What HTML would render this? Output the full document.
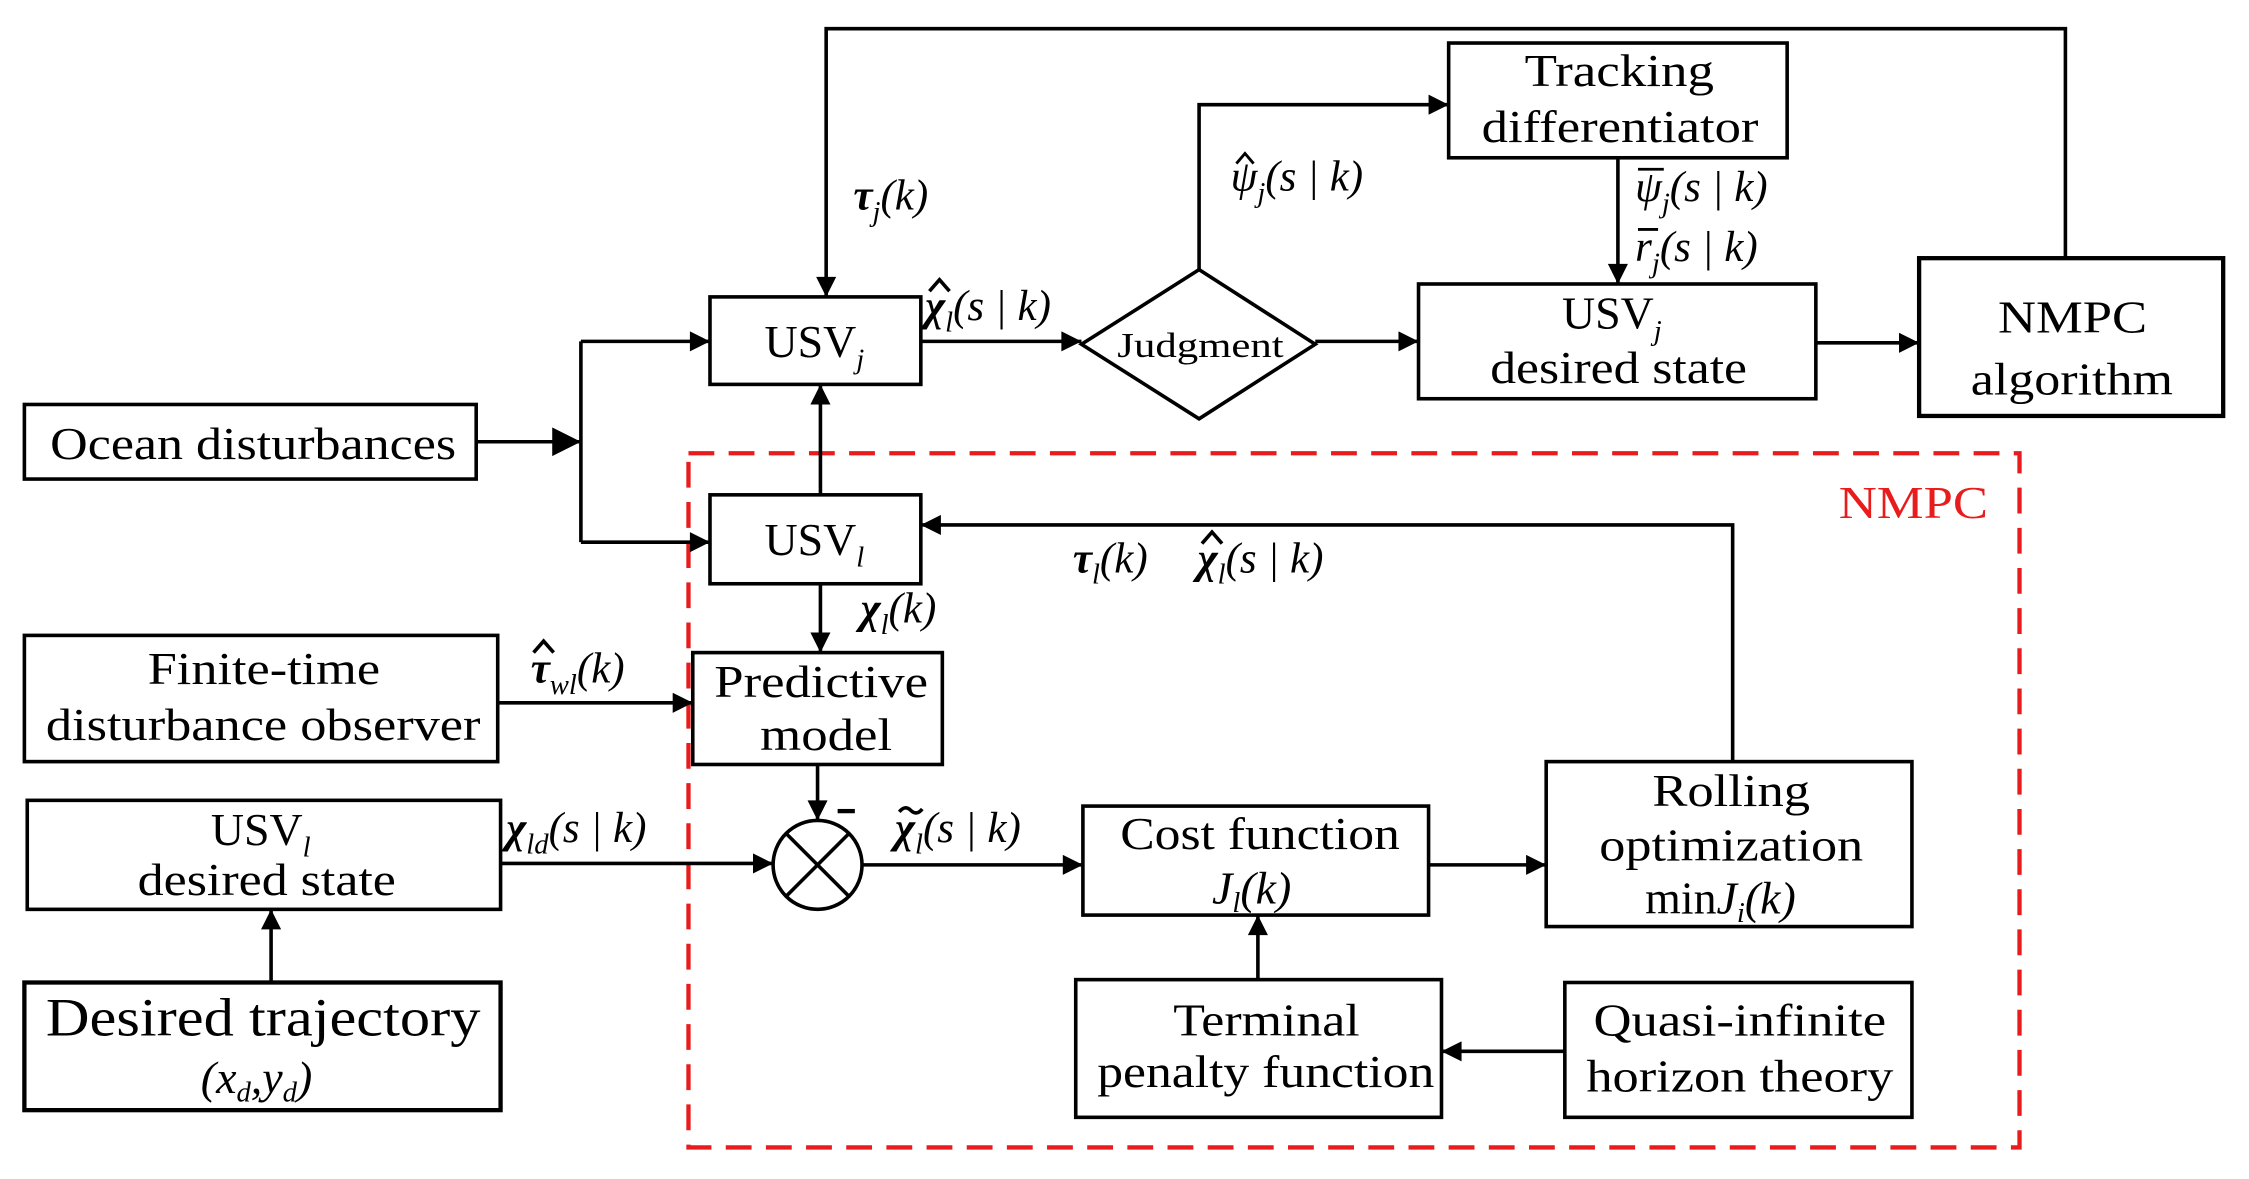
<!DOCTYPE html>
<html><head><meta charset="utf-8">
<style>
html,body{margin:0;padding:0;background:#fff;}
svg{display:block;}
text{font-family:"Liberation Serif",serif;fill:#000;}
.m{font-style:italic;}
</style></head>
<body>
<svg width="2249" height="1179" viewBox="0 0 1568 822" preserveAspectRatio="none" xmlns="http://www.w3.org/2000/svg">
<defs>
<marker id="a" viewBox="0 0 10 10" refX="10" refY="5" markerWidth="16" markerHeight="14" markerUnits="userSpaceOnUse" orient="auto">
<path d="M0,0 L10,5 L0,10 z" fill="#000"/></marker>
<marker id="b" viewBox="0 0 10 10" refX="10" refY="5" markerWidth="24" markerHeight="20" markerUnits="userSpaceOnUse" orient="auto">
<path d="M0,0 L10,5 L0,10 z" fill="#000"/></marker>
</defs>
<rect x="480" y="316" width="928" height="484" fill="none" stroke="#e81c1c" stroke-width="3" stroke-dasharray="18,10"/>
<text x="1282" y="361" font-size="32" style="fill:#e81c1c" textLength="104" lengthAdjust="spacingAndGlyphs">NMPC</text>

<g fill="none" stroke="#000" stroke-width="2.5">
<rect x="1010" y="30" width="236" height="80"/>
<rect x="495" y="207" width="147" height="61"/>
<polygon points="754,240 836,188 917,240 836,292"/>
<rect x="989" y="198" width="277" height="80"/>
<rect x="1338" y="180" width="212" height="110" stroke-width="3"/>
<rect x="17" y="282" width="315" height="52"/>
<rect x="495" y="345" width="147" height="62"/>
<rect x="17" y="443" width="330" height="88"/>
<rect x="483" y="455" width="174" height="78"/>
<rect x="19" y="558" width="330" height="76"/>
<rect x="17" y="685" width="332" height="89" stroke-width="3"/>
<circle cx="570" cy="603" r="31"/>
<line x1="548" y1="581" x2="592" y2="625"/><line x1="592" y1="581" x2="548" y2="625"/>
<rect x="755" y="562" width="241" height="76"/>
<rect x="1078" y="531" width="255" height="115"/>
<rect x="750" y="683" width="255" height="96"/>
<rect x="1091" y="685" width="242" height="94"/>
</g>

<g fill="none" stroke="#000" stroke-width="2.5">
<polyline points="1440,180 1440,20 576,20 576,207" marker-end="url(#a)"/>
<line x1="332" y1="308" x2="405" y2="308" marker-end="url(#b)"/>
<line x1="405" y1="238" x2="405" y2="378"/>
<line x1="405" y1="238" x2="495" y2="238" marker-end="url(#a)"/>
<line x1="405" y1="378" x2="495" y2="378" marker-end="url(#a)"/>
<line x1="572" y1="345" x2="572" y2="268" marker-end="url(#a)"/>
<line x1="642" y1="238" x2="754" y2="238" marker-end="url(#a)"/>
<polyline points="836,188 836,73 1010,73" marker-end="url(#a)"/>
<line x1="917" y1="238" x2="989" y2="238" marker-end="url(#a)"/>
<line x1="1128" y1="110" x2="1128" y2="198" marker-end="url(#a)"/>
<line x1="1266" y1="239" x2="1338" y2="239" marker-end="url(#a)"/>
<polyline points="1208,531 1208,366 642,366" marker-end="url(#a)"/>
<line x1="572" y1="407" x2="572" y2="455" marker-end="url(#a)"/>
<line x1="347" y1="490" x2="483" y2="490" marker-end="url(#a)"/>
<line x1="570" y1="533" x2="570" y2="572" marker-end="url(#a)"/>
<line x1="349" y1="602" x2="539" y2="602" marker-end="url(#a)"/>
<line x1="601" y1="603" x2="755" y2="603" marker-end="url(#a)"/>
<line x1="996" y1="603" x2="1078" y2="603" marker-end="url(#a)"/>
<line x1="877" y1="683" x2="877" y2="638" marker-end="url(#a)"/>
<line x1="1091" y1="733" x2="1005" y2="733" marker-end="url(#a)"/>
<line x1="189" y1="685" x2="189" y2="634" marker-end="url(#a)"/>
</g>
<rect x="584" y="564" width="12" height="3" fill="#000"/>

<!-- accents -->
<g fill="none" stroke="#000" stroke-width="2">
<polyline points="862,114 868,107 874,114"/>
<line x1="1142" y1="118" x2="1160" y2="118"/>
<line x1="1142" y1="160" x2="1156" y2="160"/>
<polyline points="648,203 655,195 662,203" stroke-width="2.5"/>
<polyline points="838,379 845,371 852,379" stroke-width="2.5"/>
<polyline points="372,455 379,447 386,455" stroke-width="2.5"/>
<path d="M627,566 q4,-5 8,-1 t8,-1" stroke-width="2.5"/>
</g>

<g font-size="32">
<text x="1063" y="60" textLength="132" lengthAdjust="spacingAndGlyphs">Tracking</text>
<text x="1033" y="99" textLength="193" lengthAdjust="spacingAndGlyphs">differentiator</text>
<text x="533" y="249">USV<tspan class="m" font-size="20" dy="8">j</tspan></text>
<text x="779" y="249" font-size="24" textLength="116" lengthAdjust="spacingAndGlyphs">Judgment</text>
<text x="1089" y="229">USV<tspan class="m" font-size="20" dy="8">j</tspan></text>
<text x="1039" y="267" textLength="179" lengthAdjust="spacingAndGlyphs">desired state</text>
<text x="1393" y="232" textLength="104" lengthAdjust="spacingAndGlyphs">NMPC</text>
<text x="1374" y="275" textLength="141" lengthAdjust="spacingAndGlyphs">algorithm</text>
<text x="35" y="320" textLength="283" lengthAdjust="spacingAndGlyphs">Ocean disturbances</text>
<text x="533" y="387">USV<tspan class="m" font-size="20" dy="8">l</tspan></text>
<text x="103" y="477" textLength="162" lengthAdjust="spacingAndGlyphs">Finite-time</text>
<text x="32" y="516" textLength="303" lengthAdjust="spacingAndGlyphs">disturbance observer</text>
<text x="498" y="486" textLength="149" lengthAdjust="spacingAndGlyphs">Predictive</text>
<text x="530" y="523" textLength="92" lengthAdjust="spacingAndGlyphs">model</text>
<text x="147" y="589">USV<tspan class="m" font-size="20" dy="8">l</tspan></text>
<text x="96" y="624" textLength="180" lengthAdjust="spacingAndGlyphs">desired state</text>
<text x="32" y="722" font-size="38" textLength="303" lengthAdjust="spacingAndGlyphs">Desired trajectory</text>
<text x="140" y="762" class="m">(x<tspan font-size="20" dy="6">d</tspan><tspan dy="-6">,y</tspan><tspan font-size="20" dy="6">d</tspan><tspan dy="-6">)</tspan></text>
<text x="781" y="592" textLength="195" lengthAdjust="spacingAndGlyphs">Cost function</text>
<text x="845" y="630" class="m">J<tspan font-size="20" dy="6">l</tspan><tspan dy="-6">(k)</tspan></text>
<text x="1152" y="562" textLength="110" lengthAdjust="spacingAndGlyphs">Rolling</text>
<text x="1115" y="600" textLength="184" lengthAdjust="spacingAndGlyphs">optimization</text>
<text x="1147" y="637">min<tspan class="m">J</tspan><tspan class="m" font-size="20" dy="6">i</tspan><tspan class="m" dy="-6">(k)</tspan></text>
<text x="818" y="722" textLength="130" lengthAdjust="spacingAndGlyphs">Terminal</text>
<text x="765" y="758" textLength="235" lengthAdjust="spacingAndGlyphs">penalty function</text>
<text x="1111" y="722" textLength="204" lengthAdjust="spacingAndGlyphs">Quasi-infinite</text>
<text x="1106" y="761" textLength="214" lengthAdjust="spacingAndGlyphs">horizon theory</text>
</g>

<g font-size="30" class="m">
<text x="595" y="146"><tspan font-weight="bold">τ</tspan><tspan font-size="20" dy="8">j</tspan><tspan dy="-8">(k)</tspan></text>
<text x="858" y="133">ψ<tspan font-size="20" dy="8">j</tspan><tspan dy="-8">(s | k)</tspan></text>
<text x="1140" y="140">ψ<tspan font-size="20" dy="8">j</tspan><tspan dy="-8">(s | k)</tspan></text>
<text x="1140" y="182">r<tspan font-size="20" dy="8">j</tspan><tspan dy="-8">(s | k)</tspan></text>
<text x="645" y="223"><tspan font-weight="bold">χ</tspan><tspan font-size="20" dy="8">l</tspan><tspan dy="-8">(s | k)</tspan></text>
<text x="748" y="399"><tspan font-weight="bold">τ</tspan><tspan font-size="20" dy="8">l</tspan><tspan dy="-8">(k)</tspan></text>
<text x="835" y="399"><tspan font-weight="bold">χ</tspan><tspan font-size="20" dy="8">l</tspan><tspan dy="-8">(s | k)</tspan></text>
<text x="600" y="434"><tspan font-weight="bold">χ</tspan><tspan font-size="20" dy="8">l</tspan><tspan dy="-8">(k)</tspan></text>
<text x="370" y="476"><tspan font-weight="bold">τ</tspan><tspan font-size="20" dy="8">wl</tspan><tspan dy="-8">(k)</tspan></text>
<text x="353" y="587"><tspan font-weight="bold">χ</tspan><tspan font-size="20" dy="8">ld</tspan><tspan dy="-8">(s | k)</tspan></text>
<text x="624" y="587"><tspan font-weight="bold">χ</tspan><tspan font-size="20" dy="8">l</tspan><tspan dy="-8">(s | k)</tspan></text>
</g>
</svg>
</body></html>
